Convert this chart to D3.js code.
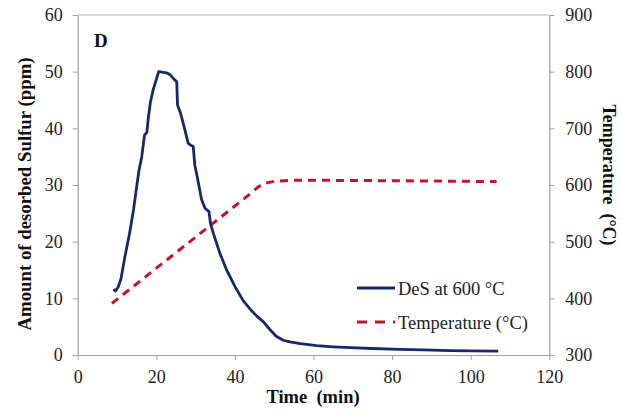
<!DOCTYPE html>
<html><head><meta charset="utf-8">
<script src="https://cdn.jsdelivr.net/npm/d3@7"></script>
<style>body{margin:0;background:#fff}svg{display:block}</style>
</head><body>
<svg id="c" width="621" height="417"></svg>
<script>
const desTime = [9.1, 9.6, 10.3, 11.0, 12.0, 13.2, 14.2, 15.0, 15.6, 16.3, 17.0, 17.6, 18.0, 18.5, 19.2, 19.9, 20.6, 21.5, 22.6, 23.6, 24.6, 25.2, 25.4, 26.2, 27.3, 28.1, 28.8, 29.4, 29.8, 30.4, 31.5, 32.4, 33.4, 33.8, 34.5, 35.3, 36.2, 37.9, 40.0, 42.1, 44.0, 45.5, 47.2, 48.9, 50.5, 52.3, 54.0, 56.6, 60.8, 65.0, 69.3, 75.0, 82.0, 88.0, 94.7, 100.0, 107.0];
const desValue = [11.6, 11.3, 12.0, 13.4, 17.3, 21.5, 25.6, 29.7, 32.6, 35.0, 38.8, 39.3, 42.0, 44.6, 46.8, 48.4, 50.0, 49.9, 49.8, 49.4, 48.6, 48.2, 44.1, 42.6, 39.7, 37.4, 37.0, 36.8, 33.5, 31.5, 27.5, 25.9, 25.3, 23.2, 21.5, 19.8, 17.9, 15.0, 12.1, 9.6, 8.0, 6.9, 5.9, 4.5, 3.3, 2.6, 2.3, 2.0, 1.65, 1.45, 1.3, 1.15, 1.0, 0.9, 0.77, 0.72, 0.7];
const tempTime = [8.7, 44.0, 46.0, 47.5, 50.0, 55.0, 70.0, 90.0, 106.6];
const tempValue = [391, 585, 597, 603, 606.5, 608.5, 608, 607, 606];
const xTicks = [0, 20, 40, 60, 80, 100, 120];
const yLeftTicks = [0, 10, 20, 30, 40, 50, 60];
const yRightTicks = [300, 400, 500, 600, 700, 800, 900];
const seriesNames = ["DeS at 600 °C", "Temperature (°C)"];

const svg = d3.select("#c");
const L = 77.7, R = 549.3, T = 15, B = 355;
const x = d3.scaleLinear().domain([0, 120]).range([L, R]);
const yL = d3.scaleLinear().domain([0, 60]).range([B, T]);
const yR = d3.scaleLinear().domain([300, 900]).range([B, T]);
const font = `"Liberation Serif", monospace`;
const axisCol = "#a0a0a0";

svg.append("line").attr("x1", L).attr("x2", R).attr("y1", T).attr("y2", T)
  .attr("stroke", "#b8b8b8").attr("stroke-width", 1);

function styleAxis(g) {
  g.select(".domain").attr("stroke", axisCol).attr("stroke-width", 1.2);
  g.selectAll(".tick line").attr("stroke", axisCol);
  g.attr("font-family", null).attr("font-size", null);
  g.selectAll(".tick text").style("font-family", font).attr("font-size", 18).attr("fill", "#222");
}

svg.append("g").attr("transform", `translate(0,${B})`)
  .call(d3.axisBottom(x).tickValues(xTicks).tickSize(5).tickPadding(10).tickSizeOuter(0))
  .call(styleAxis);
svg.append("g").attr("transform", `translate(${L},0)`)
  .call(d3.axisLeft(yL).tickValues(yLeftTicks).tickSize(5).tickPadding(10).tickSizeOuter(0))
  .call(styleAxis);
svg.append("g").attr("transform", `translate(${R},0)`)
  .call(d3.axisRight(yR).tickValues(yRightTicks).tickSize(5).tickPadding(11).tickSizeOuter(0))
  .call(styleAxis);

const des = desTime.map((t, i) => [t, desValue[i]]);
const temp = tempTime.map((t, i) => [t, tempValue[i]]);
svg.append("path").datum(temp)
  .attr("d", d3.line().x(d => x(d[0])).y(d => yR(d[1])))
  .attr("fill", "none").attr("stroke", "#c8102e").attr("stroke-width", 3)
  .attr("stroke-dasharray", "8,6").attr("stroke-linejoin", "round");
svg.append("path").datum(des)
  .attr("d", d3.line().x(d => x(d[0])).y(d => yL(d[1])))
  .attr("fill", "none").attr("stroke", "#15296b").attr("stroke-width", 2.8)
  .attr("stroke-linejoin", "round");

function label(sel) { return sel.style("font-family", font).attr("fill", "#111"); }
label(svg.append("text")).attr("transform", "translate(31,194) rotate(-90)")
  .attr("text-anchor", "middle").attr("font-weight", "bold")
  .attr("font-size", 18.8).text("Amount of desorbed Sulfur (ppm)");
label(svg.append("text")).attr("transform", "translate(603,175) rotate(90)")
  .attr("text-anchor", "middle").attr("font-weight", "bold")
  .attr("font-size", 18).style("white-space", "pre").text("Temperature  (°C)");
label(svg.append("text")).attr("x", 313).attr("y", 403)
  .attr("text-anchor", "middle").attr("font-weight", "bold")
  .attr("font-size", 18.5).style("white-space", "pre").text("Time  (min)");
label(svg.append("text")).attr("x", 94).attr("y", 47)
  .attr("font-weight", "bold").attr("font-size", 19).text("D");

const lg = svg.append("g");
lg.append("line").attr("x1", 357).attr("x2", 395).attr("y1", 288).attr("y2", 288)
  .attr("stroke", "#15296b").attr("stroke-width", 3);
label(lg.append("text")).attr("x", 398).attr("y", 294.5)
  .attr("font-size", 18.5).attr("fill", "#222").text(seriesNames[0]);
lg.append("line").attr("x1", 357).attr("x2", 395).attr("y1", 322).attr("y2", 322)
  .attr("stroke", "#c8102e").attr("stroke-width", 3).attr("stroke-dasharray", "10,8");
label(lg.append("text")).attr("x", 398).attr("y", 328.5)
  .attr("font-size", 18.5).attr("fill", "#222").text(seriesNames[1]);
</script>
</body></html>
